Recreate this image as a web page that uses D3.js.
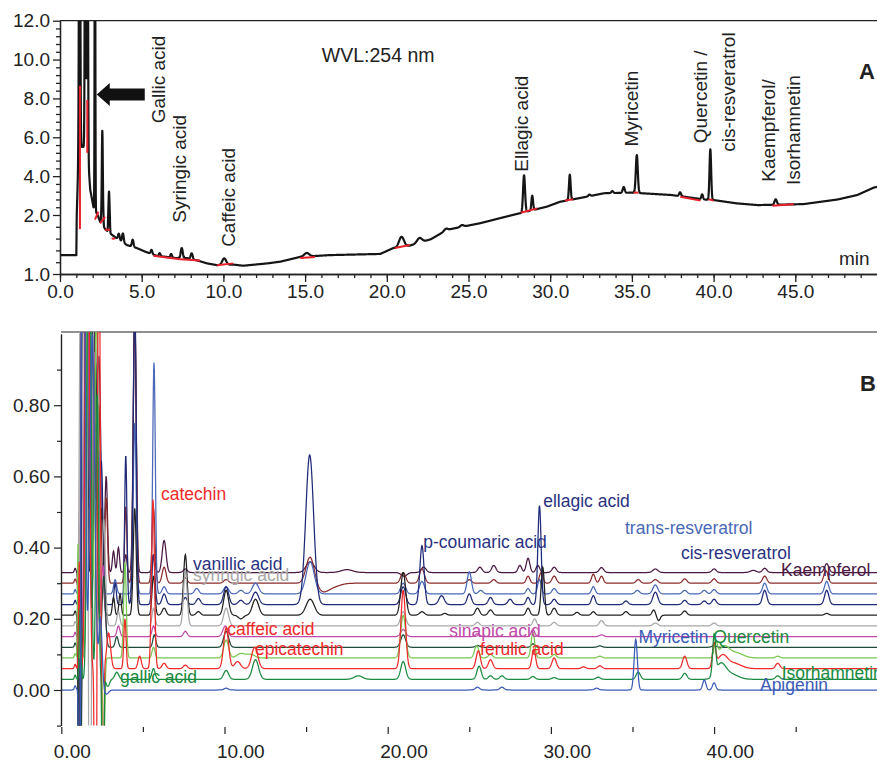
<!DOCTYPE html>
<html>
<head>
<meta charset="utf-8">
<script src="https://cdn.jsdelivr.net/npm/d3@7"></script>
<style>
  body { margin: 0; background: #fff; }
  svg { display: block; font-family: "Liberation Sans", Arial, sans-serif; }
</style>
</head>
<body>
<svg id="chart" width="877" height="761"></svg>
<script>
// ---------- panel A : sample chromatogram at 254 nm ----------
const aMajorY = [1, 2, 4, 6, 8, 10, 12];
const aMajorX = [0, 5, 10, 15, 20, 25, 30, 35, 40, 45];

// baseline knots [min, value]
const aBaseline = [
  [0, 1.32], [1.0, 1.32], [1.15, 5.5], [1.5, 5.5], [1.75, 4.5], [1.85, 3.3],
  [2.05, 2.4], [2.3, 2.0], [2.45, 1.89], [2.8, 1.75], [3.2, 1.66], [3.4, 1.62],
  [4.1, 1.49], [4.7, 1.44], [5.2, 1.38], [5.9, 1.31], [6.5, 1.29], [7.1, 1.27],
  [7.75, 1.27], [8.4, 1.23], [9.0, 1.18], [9.6, 1.15], [10.6, 1.16], [11.2, 1.14],
  [12.7, 1.18], [13.5, 1.21], [14.7, 1.29], [16.5, 1.32], [19.6, 1.34], [20.4, 1.44],
  [21.4, 1.48], [22.7, 1.59], [23.7, 1.75], [25.7, 1.86], [27.7, 2.0], [29.8, 2.43],
  [30.6, 2.68], [31.8, 2.87], [33.3, 3.12], [35.0, 3.15], [37.4, 3.03], [38.2, 2.94],
  [39.4, 2.8], [40.0, 2.77], [41.4, 2.6], [42.7, 2.51], [45.5, 2.56], [47.6, 2.8],
  [48.8, 3.03], [49.8, 3.41], [50, 3.45]
];

// peaks on top of the baseline [min, height, width]
const aPeaks = [
  [1.2, 20, 0.035], [1.55, 20, 0.03], [1.68, 20, 0.03], [2.14, 20, 0.02],
  [2.59, 4.5, 0.03], [3.0, 1.5, 0.03], [3.6, 0.1, 0.05], [3.85, 0.15, 0.05],
  [4.45, 0.12, 0.05], [5.6, 0.07, 0.05], [6.1, 0.05, 0.05], [6.8, 0.06, 0.05],
  [7.45, 0.17, 0.06], [8.06, 0.1, 0.06], [10.05, 0.11, 0.12], [15.1, 0.06, 0.15],
  [20.9, 0.17, 0.15], [22.0, 0.08, 0.15], [23.6, 0.03, 0.1], [24.6, 0.03, 0.1],
  [28.4, 1.9, 0.06], [28.9, 0.75, 0.05], [31.2, 1.3, 0.05], [32.4, 0.08, 0.06],
  [33.8, 0.1, 0.06], [34.5, 0.3, 0.06], [35.3, 1.95, 0.06], [37.95, 0.2, 0.06],
  [39.3, 0.25, 0.05], [39.8, 2.6, 0.05], [43.8, 0.28, 0.07]
];

// red integration baselines [min1, v1, min2, v2]
const aRedMarks = [
  [1.22, 1.76, 1.22, 8.65], [1.67, 7.92, 1.67, 5.2], [2.14, 1.92, 2.35, 2.17],
  [2.45, 1.86, 2.76, 1.97], [2.76, 1.75, 3.06, 1.75], [3.16, 1.6, 3.37, 1.6],
  [5.71, 1.31, 7.35, 1.25], [7.35, 1.25, 8.57, 1.23], [9.6, 1.15, 10.6, 1.18],
  [14.7, 1.27, 15.6, 1.29], [20.5, 1.44, 21.4, 1.49], [28.2, 2.12, 29.2, 2.34],
  [30.9, 2.74, 31.4, 2.81], [35.1, 3.15, 35.4, 3.15], [37.96, 2.94, 39.2, 2.74],
  [39.7, 2.81, 40.0, 2.74], [43.6, 2.48, 44.9, 2.55]
];

// rotated compound labels [text, min, value]
const aLabels = [
  ['Gallic acid', 6.43, 6.72], ['Syringic acid', 7.7, 1.87], ['Caffeic acid', 10.71, 1.46],
  ['Ellagic acid', 28.64, 4.23], ['Myricetin', 35.4, 5.52], ['Quercetin /', 39.6, 5.69],
  ['cis-resveratrol', 41.31, 5.26], ['Kaempferol/', 43.76, 3.71], ['Isorhamnetin', 45.29, 3.54]
];

// ---------- panel B : standards, one offset trace each ----------
const bMajorY = [0, 0.2, 0.4, 0.6, 0.8];
const bMinorY = [-0.1, 0.1, 0.3, 0.5, 0.7, 0.9];
const bMajorX = [0, 10, 20, 30, 40];
const bMinorX = [5, 15, 25, 35, 45];

const traceColors = ['#4a1942', '#8b2c2c', '#4a68b8', '#1f2a78', '#222222', '#a8a8a8',
  '#c04aa8', '#1f4a3a', '#78c850', '#ee2a2a', '#1a8a40', '#3a5cb8'];
const traceOffsets = [0.33, 0.30, 0.27, 0.24, 0.21, 0.18, 0.15, 0.12, 0.09, 0.06, 0.03, 0.0];

// [min, height, width]
const peaksPurple = [
  [0.85, 0.012, 0.05], [1.1, -1.5, 0.04], [1.3, 2.5, 0.08], [1.8, 2.0, 0.15], [2.3, 0.6, 0.12],
  [2.75, 0.27, 0.08], [3.2, 0.06, 0.07], [3.5, 0.07, 0.07], [3.95, 0.05, 0.07], [4.5, 0.75, 0.09],
  [5.65, 0.05, 0.09], [6.3, 0.09, 0.12], [7.6, 0.01, 0.12], [15.25, 0.03, 0.25], [17.5, 0.008, 0.35],
  [21.0, -0.01, 0.18], [22.2, 0.015, 0.15], [25.65, 0.015, 0.13], [26.5, 0.02, 0.13], [28.1, 0.02, 0.11],
  [28.6, 0.04, 0.11], [29.2, 0.02, 0.11], [30.2, 0.015, 0.13], [33.1, 0.014, 0.13], [36.4, 0.01, 0.15],
  [40.0, 0.01, 0.13], [42.4, 0.006, 0.18], [43.1, 0.012, 0.13], [46.9, 0.025, 0.13]
];
const peaksMaroon = [
  [0.85, 0.012, 0.05], [1.12, -1.5, 0.04], [1.35, 2.5, 0.1], [1.85, 1.8, 0.12], [2.3, 0.5, 0.1],
  [2.75, 0.24, 0.08], [3.95, 0.215, 0.07], [4.5, 0.75, 0.09], [5.65, 0.21, 0.09], [6.3, 0.045, 0.12],
  [7.6, 0.015, 0.12], [10.1, 0.01, 0.15], [15.25, 0.075, 0.25], [16.0, -0.02, 0.35], [16.6, -0.01, 0.45],
  [20.95, 0.03, 0.15], [22.1, 0.04, 0.15], [25.0, 0.01, 0.13], [26.5, 0.01, 0.13], [28.6, 0.02, 0.11],
  [29.4, 0.03, 0.11], [30.2, 0.02, 0.13], [32.6, 0.025, 0.11], [33.1, 0.02, 0.11], [35.35, 0.01, 0.13],
  [36.4, 0.01, 0.15], [38.2, 0.012, 0.13], [40.0, 0.012, 0.13], [43.1, 0.02, 0.13], [46.85, 0.035, 0.13]
];
const peaksBlue = [
  [0.85, 0.012, 0.05], [1.14, -1.6, 0.04], [1.35, 2.5, 0.1], [1.9, 1.5, 0.15], [2.4, 0.4, 0.1],
  [3.3, 0.04, 0.09], [4.5, 0.48, 0.09], [5.68, 0.65, 0.08], [6.3, 0.02, 0.12], [8.3, 0.015, 0.13],
  [10.1, 0.02, 0.15], [11.0, 0.01, 0.15], [11.9, 0.03, 0.19], [15.25, 0.09, 0.25], [20.95, 0.03, 0.15],
  [22.1, 0.035, 0.15], [25.0, 0.062, 0.13], [25.7, 0.01, 0.13], [28.6, 0.015, 0.11], [29.3, 0.04, 0.11],
  [30.2, 0.015, 0.13], [32.6, 0.02, 0.11], [35.3, 0.01, 0.13], [36.4, 0.025, 0.15], [38.2, 0.01, 0.13],
  [39.4, 0.01, 0.13], [40.0, 0.012, 0.13], [43.1, 0.03, 0.13], [46.9, 0.035, 0.13]
];
const peaksNavy = [
  [0.85, 0.012, 0.05], [1.16, -1.6, 0.04], [1.4, 2.5, 0.1], [1.95, 1.2, 0.15], [2.45, 0.4, 0.1],
  [3.3, 0.06, 0.07], [3.95, 0.42, 0.07], [4.5, 0.85, 0.09], [5.65, 0.14, 0.09], [6.3, 0.03, 0.12],
  [7.6, 0.02, 0.12], [8.4, 0.017, 0.13], [10.1, 0.05, 0.15], [11.0, 0.012, 0.15], [11.9, 0.035, 0.19],
  [15.22, 0.42, 0.24], [20.95, 0.05, 0.15], [22.1, 0.165, 0.13], [23.3, 0.025, 0.16], [25.0, 0.03, 0.13],
  [26.3, 0.02, 0.13], [27.5, 0.015, 0.13], [28.6, 0.02, 0.11], [29.3, 0.278, 0.1], [30.2, 0.015, 0.13],
  [32.6, 0.025, 0.11], [34.6, 0.01, 0.13], [36.4, 0.035, 0.15], [38.2, 0.012, 0.13], [39.4, 0.01, 0.13],
  [40.0, 0.015, 0.13], [43.1, 0.04, 0.13], [46.9, 0.04, 0.13]
];
const peaksBlack = [
  [0.85, 0.012, 0.05], [1.1, -1.2, 0.05], [1.45, 2.2, 0.1], [2.0, 1.0, 0.12], [2.45, 0.3, 0.1],
  [3.2, 0.05, 0.07], [3.6, 0.06, 0.07], [4.5, 0.3, 0.09], [5.65, 0.11, 0.09], [6.3, 0.02, 0.12],
  [7.6, 0.17, 0.11], [8.4, 0.01, 0.13], [10.1, 0.07, 0.15], [11.0, -0.01, 0.15], [11.9, 0.045, 0.19],
  [15.25, 0.045, 0.25], [20.95, 0.12, 0.15], [22.1, 0.01, 0.15], [23.5, 0.005, 0.13], [25.5, 0.02, 0.13],
  [26.3, 0.015, 0.13], [28.6, 0.02, 0.11], [29.5, 0.135, 0.1], [30.2, 0.02, 0.13], [31.6, 0.008, 0.13],
  [32.6, 0.01, 0.11], [34.6, 0.01, 0.13], [36.3, 0.015, 0.1], [36.6, -0.015, 0.1], [38.2, 0.012, 0.13],
  [46.9, 0.005, 0.13]
];
const peaksGray = [
  [0.85, 0.012, 0.05], [1.2, 1.2, 0.08], [1.5, 1.0, 0.08], [1.76, -1.6, 0.05], [2.1, 1.5, 0.12],
  [2.6, 0.3, 0.1], [3.5, 0.04, 0.09], [5.65, 0.05, 0.09], [7.6, 0.155, 0.11], [10.1, 0.05, 0.15],
  [20.95, 0.04, 0.15], [25.5, 0.01, 0.13], [29.0, 0.02, 0.11], [30.2, 0.01, 0.13], [33.1, 0.015, 0.13],
  [36.4, 0.008, 0.15], [40.0, 0.008, 0.13]
];
const peaksMagenta = [
  [0.85, 0.012, 0.05], [1.15, -1.0, 0.05], [1.55, 2.0, 0.1], [2.05, 0.8, 0.12], [2.55, 0.2, 0.1],
  [3.5, 0.03, 0.09], [5.65, 0.03, 0.09], [7.6, 0.015, 0.11], [10.05, 0.03, 0.15], [20.95, 0.02, 0.15],
  [25.5, 0.008, 0.13], [28.9, 0.02, 0.11], [33.1, 0.005, 0.13]
];
const peaksDarkGreen = [
  [0.85, 0.012, 0.05], [1.15, -1.0, 0.05], [1.6, 2.0, 0.1], [2.1, 0.8, 0.1], [2.6, 0.2, 0.1],
  [3.4, 0.03, 0.09], [5.7, 0.035, 0.09], [10.1, 0.045, 0.15], [20.95, 0.035, 0.15], [25.5, 0.005, 0.13],
  [28.9, 0.01, 0.11], [33.0, 0.004, 0.13], [40.0, 0.005, 0.13]
];
const peaksLightGreen = [
  [0.85, 0.012, 0.05], [1.02, 0.32, 0.03], [1.7, 2.0, 0.1], [2.15, 1.0, 0.1], [2.6, -0.3, 0.06],
  [3.9, 0.27, 0.08], [5.65, 0.03, 0.09], [10.1, 0.05, 0.15], [11.0, 0.012, 0.25], [11.6, 0.01, 0.25],
  [20.95, 0.12, 0.15], [25.45, 0.035, 0.13], [26.3, 0.01, 0.13], [28.9, 0.072, 0.11], [30.2, 0.01, 0.13],
  [33.0, 0.005, 0.13], [40.1, 0.04, 0.1], [40.6, 0.03, 0.3], [41.3, 0.015, 0.45], [43.9, 0.005, 0.13]
];
const peaksRed = [
  [0.85, 0.012, 0.05], [1.1, 0.3, 0.04], [1.6, 2.0, 0.1], [2.1, -1.5, 0.05], [2.3, 1.5, 0.07],
  [2.55, -1.2, 0.04], [2.9, 0.1, 0.12], [3.9, 0.14, 0.07], [4.8, 0.035, 0.1], [5.62, 0.475, 0.09],
  [6.3, 0.015, 0.12], [7.6, 0.01, 0.12], [10.1, 0.115, 0.15], [10.8, 0.02, 0.18], [11.85, 0.06, 0.19],
  [20.95, 0.22, 0.14], [25.55, 0.05, 0.13], [26.3, 0.025, 0.13], [28.95, 0.055, 0.11], [30.2, 0.03, 0.13],
  [32.0, 0.005, 0.13], [33.0, 0.008, 0.13], [38.2, 0.035, 0.13], [40.0, 0.065, 0.1], [40.5, 0.035, 0.3],
  [41.2, 0.015, 0.45], [43.9, 0.015, 0.13]
];
const peaksGreen = [
  [0.85, 0.012, 0.05], [1.15, 0.2, 0.05], [1.7, 2.0, 0.1], [2.2, 0.8, 0.08], [2.55, -1.3, 0.04],
  [2.85, -0.02, 0.1], [3.4, 0.02, 0.12], [5.65, 0.03, 0.1], [10.1, 0.025, 0.15], [11.9, 0.055, 0.19],
  [18.2, 0.01, 0.25], [20.95, 0.05, 0.15], [25.6, 0.037, 0.13], [26.3, 0.01, 0.13], [27.0, 0.01, 0.13],
  [28.9, 0.008, 0.13], [30.2, 0.005, 0.13], [32.9, 0.006, 0.13], [35.35, 0.02, 0.13], [38.2, 0.017, 0.13],
  [40.0, 0.11, 0.09], [40.4, 0.04, 0.3], [41.0, 0.015, 0.45], [43.9, 0.01, 0.13]
];
const peaksLowBlue = [
  [0.85, 0.012, 0.05], [1.12, -1.5, 0.04], [1.35, 2.0, 0.1], [1.9, 1.0, 0.15], [2.4, 0.2, 0.1],
  [2.75, -0.012, 0.14], [10.1, 0.005, 0.13], [25.5, 0.008, 0.13], [27.0, 0.008, 0.13], [32.8, 0.005, 0.13],
  [35.2, 0.142, 0.1], [39.4, 0.028, 0.1], [40.0, 0.02, 0.1]
];
const tracePeaks = [peaksPurple, peaksMaroon, peaksBlue, peaksNavy, peaksBlack, peaksGray,
  peaksMagenta, peaksDarkGreen, peaksLightGreen, peaksRed, peaksGreen, peaksLowBlue];

// [text, min, value, trace index for colour]
const bLabels = [
  ['catechin', 6.11, 0.534, 9], ['vanillic acid', 8.07, 0.337, 3], ['syringic acid', 8.07, 0.306, 5],
  ['caffeic acid', 10.17, 0.154, 9], ['epicatechin', 11.87, 0.098, 9], ['gallic acid', 3.6, 0.02, 10],
  ['p-coumaric acid', 22.18, 0.398, 3], ['ellagic acid', 29.53, 0.513, 3], ['sinapic acid', 23.77, 0.15, 6],
  ['ferulic acid', 25.66, 0.098, 9], ['trans-resveratrol', 34.54, 0.438, 2], ['cis-resveratrol', 37.97, 0.368, 3],
  ['Kaempferol', 44.1, 0.32, 0], ['Myricetin', 35.36, 0.132, 11], ['Quercetin', 39.95, 0.131, 10],
  ['Isorhamnetin', 44.14, 0.031, 10], ['Apigenin', 42.81, -0.003, 11]
];

const svg = d3.select('#chart');
const gauss = (t, p) => p[1] * Math.exp(-((t - p[0]) ** 2) / (2 * p[2] * p[2]));

// ================= panel A =================
const xA = d3.scaleLinear().domain([0, 50]).range([60, 877]);
const yA = d3.scaleLinear().domain([1, 2, 12]).range([274, 215, 20.7]);

svg.append('clipPath').attr('id', 'clipA')
  .append('rect').attr('x', 60).attr('y', 20.7).attr('width', 817).attr('height', 253.3);

const baseA = d3.scaleLinear().domain(aBaseline.map(d => d[0])).range(aBaseline.map(d => d[1]));
const traceA = d3.range(0, 50.0001, 0.01)
  .map(t => [t, Math.min(14, baseA(t) + d3.sum(aPeaks, p => gauss(t, p)))]);

const gA = svg.append('g');
gA.append('line')
  .attr('x1', 60).attr('x2', 877).attr('y1', 20.7).attr('y2', 20.7)
  .attr('stroke', '#222').attr('stroke-width', 1.3);

gA.append('path')
  .datum(traceA)
  .attr('clip-path', 'url(#clipA)')
  .attr('fill', 'none')
  .attr('stroke', '#151515')
  .attr('stroke-width', 2.2)
  .attr('stroke-linejoin', 'round')
  .attr('d', d3.line().x(d => xA(d[0])).y(d => yA(d[1])));

gA.selectAll('line.red')
  .data(aRedMarks)
  .enter()
  .append('line')
  .attr('class', 'red')
  .attr('x1', d => xA(d[0])).attr('y1', d => yA(d[1]))
  .attr('x2', d => xA(d[2])).attr('y2', d => yA(d[3]))
  .attr('stroke', '#e8202a').attr('stroke-width', 2);

// axes A
const minorYA = d3.range(1.2, 2, 0.2).concat(d3.range(2.4, 12, 0.4))
  .filter(v => Math.abs(v - Math.round(v / 2) * 2) > 0.01);
gA.append('g').attr('transform', 'translate(60,0)')
  .call(d3.axisLeft(yA).tickValues(minorYA).tickSize(4).tickSizeOuter(0).tickFormat(''));
gA.append('g').attr('transform', 'translate(60,0)')
  .call(d3.axisLeft(yA).tickValues(aMajorY).tickSize(7).tickSizeOuter(0).tickFormat(d3.format('.1f')));
gA.append('g').attr('transform', 'translate(0,274)')
  .call(d3.axisBottom(xA).tickValues(d3.range(0, 50, 1)).tickSize(4).tickSizeOuter(0).tickFormat(''));
gA.append('g').attr('transform', 'translate(0,274)')
  .call(d3.axisBottom(xA).tickValues(aMajorX).tickSize(8).tickSizeOuter(0).tickFormat(d3.format('.1f')));

gA.selectAll('.domain, .tick line').attr('stroke', '#222').attr('stroke-width', 1.3);
gA.selectAll('.tick text').attr('font-size', 19).attr('fill', '#222')
  .attr('font-family', '"Liberation Sans", Arial, sans-serif');

// peak labels A
gA.selectAll('text.peak')
  .data(aLabels)
  .enter()
  .append('text')
  .attr('class', 'peak')
  .attr('transform', d => `translate(${xA(d[1])},${yA(d[2])}) rotate(-90)`)
  .attr('font-size', 19)
  .attr('fill', '#222')
  .attr('xml:space', 'preserve')
  .text(d => d[0]);

gA.append('text').attr('x', xA(16.02)).attr('y', yA(9.89))
  .attr('font-size', 19.5).attr('fill', '#222').text('WVL:254 nm');
gA.append('text').attr('x', xA(47.67)).attr('y', yA(1.15))
  .attr('font-size', 19).attr('fill', '#222').text('min');
gA.append('text').attr('x', 859).attr('y', 79)
  .attr('font-size', 22).attr('font-weight', 'bold').attr('fill', '#222').text('A');

// arrow pointing at the gallic acid peak
const tipX = xA(2.25), tipY = yA(8.2);
gA.append('polygon')
  .attr('points', [[0, 0], [13, -11.5], [13, -6], [48, -6], [48, 6], [13, 6], [13, 11.5]]
    .map(p => [tipX + p[0], tipY + p[1]].join(',')).join(' '))
  .attr('fill', '#111');

// ================= panel B =================
const xB = d3.scaleLinear().domain([0, 50]).range([61.3, 877.3]);
const yB = d3.scaleLinear().domain([-0.1, 1.0]).range([725.6, 334]);

svg.append('clipPath').attr('id', 'clipB')
  .append('rect').attr('x', 61).attr('y', 332).attr('width', 816).attr('height', 393.6);

const timesB = d3.range(0, 50.0001, 0.02);
const gB = svg.append('g');

gB.append('line')
  .attr('x1', 61).attr('x2', 877).attr('y1', 332).attr('y2', 332)
  .attr('stroke', '#222').attr('stroke-width', 1.2);

const lineB = d3.line().x(d => xB(d[0])).y(d => yB(d[1]));
gB.selectAll('path.trace')
  .data(tracePeaks)
  .enter()
  .append('path')
  .attr('class', 'trace')
  .attr('clip-path', 'url(#clipB)')
  .attr('fill', 'none')
  .attr('stroke', (d, i) => traceColors[i])
  .attr('stroke-width', 1.25)
  .attr('d', (d, i) => lineB(timesB.map(t => {
    const v = traceOffsets[i] + d3.sum(d, p => gauss(t, p));
    return [t, Math.max(-0.3, Math.min(1.3, v))];
  })));

// axes B
gB.append('g').attr('transform', 'translate(61,0)')
  .call(d3.axisLeft(yB).tickValues(bMinorY).tickSize(4).tickSizeOuter(0).tickFormat(''));
gB.append('g').attr('transform', 'translate(61,0)')
  .call(d3.axisLeft(yB).tickValues(bMajorY).tickSize(7).tickSizeOuter(0).tickFormat(d3.format('.2f')))
  .selectAll('text').attr('x', -11);
const xAxisMinor = gB.append('g').attr('transform', 'translate(0,727)')
  .call(d3.axisBottom(xB).tickValues(bMinorX).tickSize(5).tickFormat(''));
const xAxisMajor = gB.append('g').attr('transform', 'translate(0,727)')
  .call(d3.axisBottom(xB).tickValues(bMajorX).tickSize(7).tickFormat(d3.format('.2f')));
xAxisMinor.select('.domain').remove();
xAxisMajor.select('.domain').remove();
xAxisMajor.selectAll('text')
  .attr('text-anchor', 'start').attr('x', -8).attr('y', 31).attr('dy', 0);

gB.selectAll('.domain, .tick line').attr('stroke', '#222').attr('stroke-width', 1.2);
gB.selectAll('.tick text').attr('font-size', 19).attr('fill', '#222')
  .attr('font-family', '"Liberation Sans", Arial, sans-serif');

gB.selectAll('text.std')
  .data(bLabels)
  .enter()
  .append('text')
  .attr('class', 'std')
  .attr('x', d => xB(d[1]))
  .attr('y', d => yB(d[2]))
  .attr('font-size', 17.5)
  .attr('fill', d => d[3] === 3 ? '#2a3282' : traceColors[d[3]])
  .text(d => d[0]);

gB.append('text').attr('x', 860).attr('y', 391)
  .attr('font-size', 22).attr('font-weight', 'bold').attr('fill', '#222').text('B');
</script>
</body>
</html>
